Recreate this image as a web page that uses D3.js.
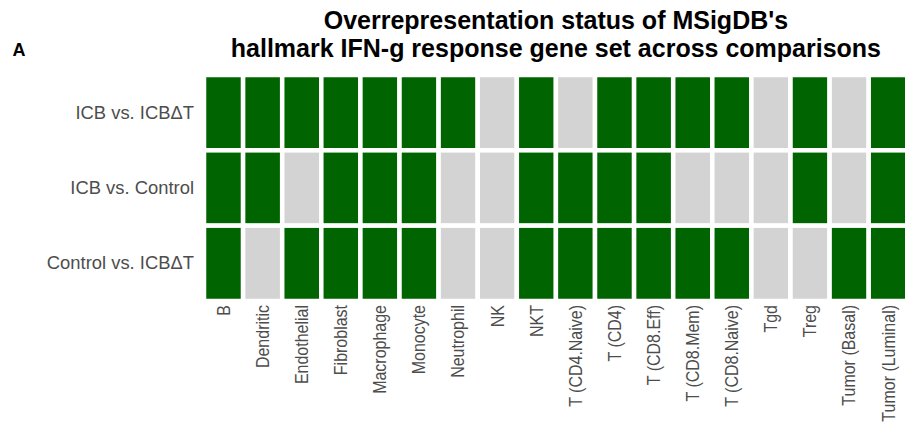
<!DOCTYPE html>
<html>
<head>
<meta charset="utf-8">
<script src="https://cdn.jsdelivr.net/npm/d3@7"></script>
<style>
  html, body { margin: 0; padding: 0; background: #fff; }
  svg { display: block; }
  text { font-family: "Liberation Sans", Arial, Helvetica, sans-serif; }
</style>
</head>
<body>
<svg id="chart" width="905" height="426"></svg>
<script>
const cellTypes = ["B", "Dendritic", "Endothelial", "Fibroblast", "Macrophage", "Monocyte",
  "Neutrophil", "NK", "NKT", "T (CD4.Naive)", "T (CD4)", "T (CD8.Eff)", "T (CD8.Mem)",
  "T (CD8.Naive)", "Tgd", "Treg", "Tumor (Basal)", "Tumor (Luminal)"];
const comparisons = ["ICB vs. ICB\u0394T", "ICB vs. Control", "Control vs. ICB\u0394T"];
// 1 = overrepresented, 0 = not
const statusICBvsICBdT     = [1,1,1,1,1,1,1,0,1,0,1,1,1,1,0,1,0,1];
const statusICBvsControl   = [1,1,0,1,1,1,0,0,1,1,1,1,0,0,0,1,0,1];
const statusControlvsICBdT = [1,0,1,1,1,1,0,0,1,1,1,1,1,1,0,0,1,1];
const statusRows = [statusICBvsICBdT, statusICBvsControl, statusControlvsICBdT];
const titleLines = ["Overrepresentation status of MSigDB's", "hallmark IFN-g response gene set across comparisons"];
const panelTag = "A";

const cells = [];
comparisons.forEach((c, i) => cellTypes.forEach((t, j) => cells.push({comp: c, type: t, v: statusRows[i][j]})));

const svg = d3.select("#chart");
const x = d3.scaleBand().domain(cellTypes).range([204, 907.8]).padding(0);
const y = d3.scaleBand().domain(comparisons).range([75, 301]).padding(0);
const color = d3.scaleOrdinal().domain([1, 0]).range(["#006400", "#D3D3D3"]);

svg.append("g").selectAll("rect").data(cells).join("rect")
  .attr("x", d => x(d.type)).attr("y", d => y(d.comp))
  .attr("width", x.bandwidth()).attr("height", y.bandwidth())
  .attr("fill", d => color(d.v))
  .attr("stroke", "#fff").attr("stroke-width", 4.5);

const yAxis = d3.axisLeft(y).tickSize(0).tickPadding(10);
const gy = svg.append("g").attr("transform", "translate(204,0)").call(yAxis);
gy.select(".domain").remove();
gy.selectAll("text").attr("font-size", 18.4).attr("fill", "#4D4D4D")
  .attr("font-family", "'Liberation Sans', Arial, sans-serif");

const xAxis = d3.axisBottom(x).tickSize(0).tickPadding(0);
const gx = svg.append("g").attr("transform", "translate(0,301)").call(xAxis);
gx.select(".domain").remove();
gx.selectAll("text")
  .attr("font-size", 16).attr("fill", "#4D4D4D")
  .attr("font-family", "'Liberation Sans', Arial, sans-serif")
  .attr("transform", "rotate(-90) scale(1,1.12)")
  .attr("text-anchor", "end")
  .attr("x", -4).attr("y", 0).attr("dy", "0.35em");

const titleX = (204 + 907.8) / 2;
svg.append("g").selectAll("text").data(titleLines).join("text")
  .attr("x", titleX).attr("y", (d, i) => 29 + i * 27.5)
  .attr("text-anchor", "middle").attr("font-weight", "bold").attr("font-size", 25)
  .attr("fill", "#000").text(d => d);

svg.append("text").attr("x", 12.5).attr("y", 56).attr("font-weight", "bold")
  .attr("font-size", 18).attr("fill", "#000").text(panelTag);
</script>
</body>
</html>
